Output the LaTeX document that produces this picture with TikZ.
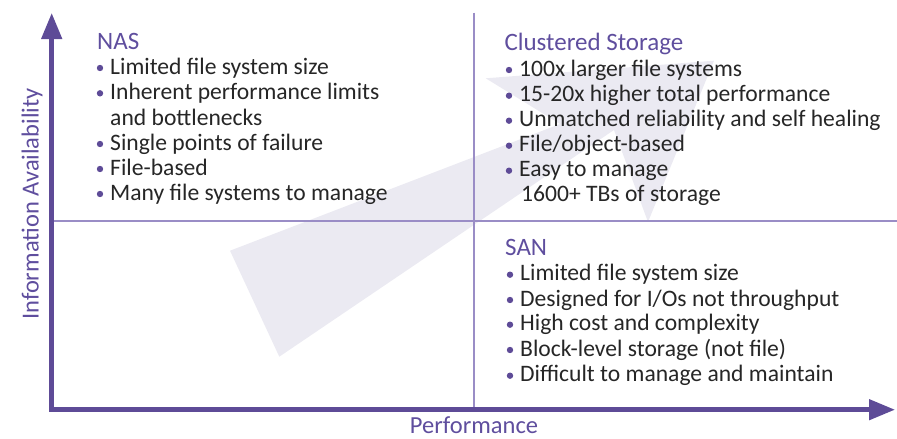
\documentclass[tikz,border=0pt]{standalone}
\usepackage{fontspec}
\setmainfont{Carlito}
\usetikzlibrary{arrows.meta}
\definecolor{axisc}{HTML}{5E4B97}
\definecolor{headc}{HTML}{5F4E9E}
\definecolor{divc}{HTML}{9A8DC6}
\definecolor{arrowc}{HTML}{EBEAF2}
\definecolor{bodyc}{HTML}{262626}
\newcommand\bitem[4]{%
  \node[body] (#1) at (#2,#3) {#4};
  \fill[axisc] ([shift={(-10pt,6pt)}]#1.base west) circle (3.2pt);}
\begin{document}
\begin{tikzpicture}[x=1pt,y=-1pt,
  body/.style={anchor=base west, inner sep=0pt, font=\fontsize{23.6}{27}\selectfont, text=bodyc},
  head/.style={anchor=base west, inner sep=0pt, font=\fontsize{25}{29}\selectfont, text=headc},
  axislabel/.style={anchor=base, inner sep=0pt, font=\fontsize{24.5}{28}\selectfont, text=headc},
  axisline/.style={draw=axisc, line width=4.6pt, line join=miter},
  divider/.style={draw=divc, line width=1.6pt}]
\useasboundingbox (0,0) rectangle (897,439);
% big background arrow
\fill[arrowc] (230,250.7) -- (560,124) -- (485.7,78.3) -- (714,60.7) -- (648,222) -- (614,130) -- (279.3,356.7) -- cycle;
% coordinates
\coordinate (ytop) at (51.7,13);
\coordinate (origin) at (51.7,409.7);
\coordinate (xend) at (895,409.7);
\coordinate (vtop) at (474,12.7);
\coordinate (vbot) at (474,409.7);
\coordinate (hleft) at (51.7,220.7);
\coordinate (hright) at (897,220.7);
% dividers
\draw[divider] (vtop) -- (vbot);
\draw[divider] (hleft) -- (hright);
% axes
\draw[axisline, {Triangle[length=26pt,width=20pt]}-{Triangle[length=26pt,width=20pt]}] (ytop) -- (origin) -- (xend);
% axis labels
\node[axislabel, rotate=90] (ylab) at (38.5,204) {Information Availability};
\node[axislabel] (xlab) at (474,433) {Performance};
% NAS
\node[head] (nas) at (97,49.3) {NAS};
\bitem{n1}{110}{74}{Limited file system size}
\bitem{n2}{110}{99.3}{Inherent performance limits}
\node[body] (n2b) at (110,125) {and bottlenecks};
\bitem{n3}{110}{150}{Single points of failure}
\bitem{n4}{110}{175}{File-based}
\bitem{n5}{110}{200}{Many file systems to manage}
% Clustered Storage
\node[head] (cs) at (504.3,50.7) {Clustered Storage};
\bitem{c1}{519}{76}{100x larger file systems}
\bitem{c2}{519}{101.7}{15-20x higher total performance}
\bitem{c3}{519}{126.7}{Unmatched reliability and self healing}
\bitem{c4}{519}{151.7}{File/object-based}
\bitem{c5}{519}{176.7}{Easy to manage}
\node[body] (c5b) at (521,201.7) {1600+ TBs of storage};
% SAN
\node[head] (san) at (505,255) {SAN};
\bitem{s1}{520}{280.7}{Limited file system size}
\bitem{s2}{520}{306}{Designed for I/Os not throughput}
\bitem{s3}{520}{330.7}{High cost and complexity}
\bitem{s4}{520}{356}{Block-level storage (not file)}
\bitem{s5}{520}{381.7}{Difficult to manage and maintain}
\end{tikzpicture}
\end{document}
